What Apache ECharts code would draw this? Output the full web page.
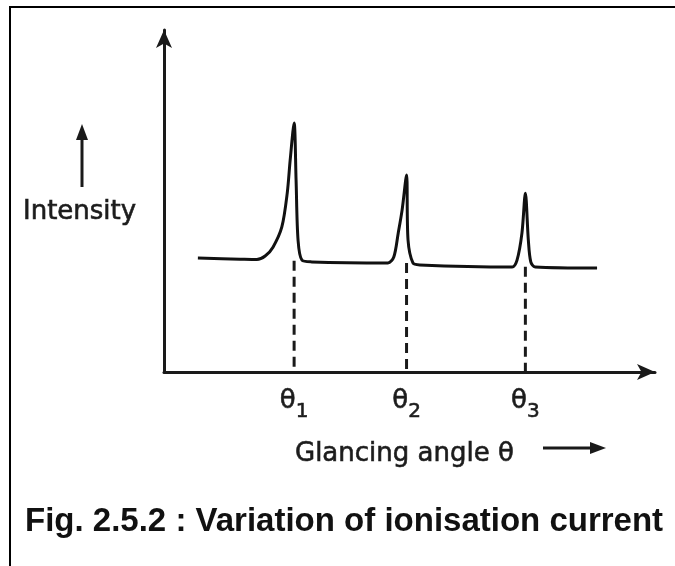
<!DOCTYPE html>
<html>
<head>
<meta charset="utf-8">
<script src="https://cdn.jsdelivr.net/npm/echarts@6/dist/echarts.min.js"></script>
<style>
html, body { margin: 0; padding: 0; background: #fff; }
#chart { width: 675px; height: 566px; }
</style>
</head>
<body>
<div id="chart"></div>
<script>
// intensity curve (arbitrary units 0-100)
var curveX = [6.9, 15.5, 18.9, 20.6, 22.2, 24.0, 25.1, 25.7, 26.5, 26.9, 27.3, 28.1, 30.1,
	45.6, 46.8, 47.7, 48.5, 49.4, 49.7, 50.7, 52.1,
	70.9, 71.9, 72.9, 73.6, 74.2, 74.7, 75.6, 88.2];
var curveY = [33.3, 33.0, 32.9, 33.9, 36.5, 42.4, 52.3, 62.0, 72.8, 56.1, 38.6, 32.7, 32.2,
	31.9, 33.6, 40.6, 47.4, 57.6, 38.6, 31.9, 31.3,
	30.7, 32.7, 40.6, 52.3, 38.6, 32.2, 30.7, 30.4];
// peak positions and where the dashed drop lines start
var thetaX = [26.5, 49.4, 73.6];
var thetaBase = [32.5, 31.9, 30.8];
var thetaNames = ['1', '2', '3'];

var myChart = echarts.init(document.getElementById('chart'), null, { renderer: 'canvas' });

var curve = curveX.map(function(x, i) {
	return [x, curveY[i]];
});

var drops = thetaX.map(function(x, i) {
	return {
		type : 'line',
		data : [ [x, thetaBase[i]], [x, 0] ],
		symbol : 'none',
		silent : true,
		lineStyle : { color : '#1a1a1a', width : 3, type : [10, 6] },
		z : 1
	};
});

var textFont = 'DejaVu Sans';
var ink = '#1c1c1c';

var option = {
	backgroundColor : '#fff',
	animation : false,
	title : [ {
		text : 'Intensity',
		left : 18,
		top : 194,
		textStyle : { fontFamily : textFont, fontSize : 26, fontWeight : 'normal', color : ink,
			textBorderColor : ink, textBorderWidth : 0.6 }
	}, {
		text : 'Glancing angle θ',
		left : 290,
		top : 436,
		textStyle : { fontFamily : textFont, fontSize : 26, fontWeight : 'normal', color : ink,
			textBorderColor : ink, textBorderWidth : 0.6 }
	}, {
		text : 'Fig. 2.5.2 : Variation of ionisation current',
		left : 20,
		top : 500,
		textStyle : { fontFamily : 'Liberation Sans', fontSize : 33, fontWeight : 'bold', color : '#111' }
	} ],
	grid : { left : 164, right : 20, top : 30, bottom : 194 },
	xAxis : {
		type : 'value',
		min : 0,
		max : 100,
		splitLine : { show : false },
		axisTick : { show : false },
		axisLine : {
			lineStyle : { color : '#1a1a1a', width : 3 },
			symbol : ['none', 'arrow'],
			symbolSize : [12, 18]
		},
		axisLabel : {
			customValues : thetaX,
			margin : 16,
			formatter : function(v) {
				var i = thetaX.indexOf(v);
				return '{t|θ}{s|' + thetaNames[i] + '}';
			},
			rich : {
				t : { fontFamily : textFont, fontSize : 26, color : ink, verticalAlign : 'top',
					textBorderColor : ink, textBorderWidth : 0.6 },
				s : { fontFamily : textFont, fontSize : 20, color : ink, padding : [14, 0, 0, 0],
					textBorderColor : ink, textBorderWidth : 0.6 }
			}
		}
	},
	yAxis : {
		type : 'value',
		min : 0,
		max : 100,
		splitLine : { show : false },
		axisTick : { show : false },
		axisLabel : { show : false },
		axisLine : {
			lineStyle : { color : '#1a1a1a', width : 3 },
			symbol : ['none', 'arrow'],
			symbolSize : [12, 18]
		}
	},
	series : [ {
		type : 'line',
		data : curve,
		symbol : 'none',
		smooth : 0.3,
		lineStyle : { color : '#111', width : 3 },
		z : 3
	} ].concat(drops),
	graphic : [ {
		// scan frame
		type : 'polyline',
		shape : { points : [ [10, 566], [10, 7], [675, 7] ] },
		style : { stroke : '#000', lineWidth : 2, fill : null }
	}, {
		type : 'group',
		children : [ {
			type : 'line',
			shape : { x1 : 82, y1 : 187, x2 : 82, y2 : 136 },
			style : { stroke : '#1a1a1a', lineWidth : 3 }
		}, {
			type : 'polygon',
			shape : { points : [ [82, 124], [76, 140], [88, 140] ] },
			style : { fill : '#1a1a1a' }
		} ]
	}, {
		type : 'group',
		children : [ {
			type : 'line',
			shape : { x1 : 543, y1 : 448, x2 : 594, y2 : 448 },
			style : { stroke : '#1a1a1a', lineWidth : 3 }
		}, {
			type : 'polygon',
			shape : { points : [ [606, 448], [590, 442], [590, 454] ] },
			style : { fill : '#1a1a1a' }
		} ]
	} ]
};

if (option && typeof option === "object") {
	myChart.setOption(option, true);
}
</script>
</body>
</html>
